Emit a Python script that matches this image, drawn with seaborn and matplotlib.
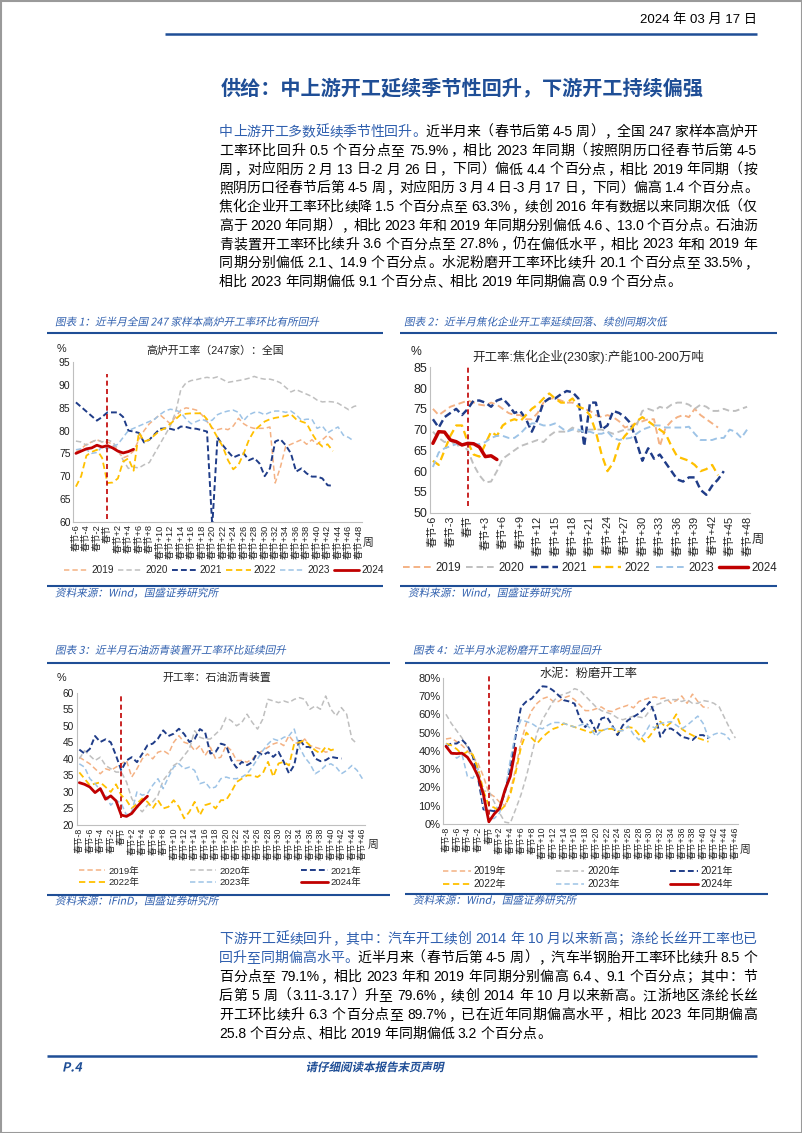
# 2024-03-17 weekly report page: supply side operating rates (4 charts + text)
import re
import seaborn as sns
import matplotlib.pyplot as plt
from matplotlib.font_manager import FontProperties
from matplotlib.textpath import TextPath
from matplotlib.patches import PathPatch, Rectangle
from matplotlib.transforms import Affine2D

W, H = 802, 1133
FONTS = ['Liberation Sans', 'Noto Sans CJK SC']
YEARS = ['2019', '2020', '2021', '2022', '2023', '2024']

# ---- chart 1: blast furnace operating rate (247 mills), weeks around Spring Festival
BF_WEEKS = list(range(-6, 49))
BF_2019 = [75.3, 76.0, 77.0, 77.5, 78.0, 77.5, 77.5, 77.0, 75.5, 74.0, 74.5, 75.5, 78.0, 80.0, 81.5,
           82.5, 83.5, 82.5, 81.5, 83.0, 84.5, 85.0, 84.8, 84.5, 83.5, 82.0, 80.5, 80.2, 80.5, 80.2,
           81.0, 82.7, 81.5, 80.8, 80.5, 80.5, 80.5, 80.8, 68.5, 72.0, 76.5, 77.0, 77.5, 78.0, 77.0,
           78.0, 77.0, 78.0, 79.0, 78.0]
BF_2020 = [77.7, 77.5, 76.8, 77.5, 78.0, 77.5, 78.0, 77.5, 76.0, 73.5, 71.7, 72.0, 71.8, 72.5, 73.0,
           75.0, 77.0, 79.0, 81.0, 84.0, 89.0, 90.5, 91.0, 91.2, 91.5, 91.7, 91.5, 91.8, 91.2, 90.6,
           90.8, 91.0, 91.2, 91.5, 91.9, 91.5, 91.3, 91.3, 91.0, 90.5, 89.5, 88.5, 89.0, 88.5, 88.0,
           87.5, 86.7, 86.3, 86.4, 86.3, 86.0, 85.3, 84.6, 85.3, 85.6]
BF_2021 = [86.2, 85.2, 84.2, 83.2, 82.2, 83.0, 84.0, 84.0, 84.0, 83.0, 80.0, 79.8, 79.5, 77.4, 78.0,
           79.2, 80.4, 80.5, 80.4, 80.1, 80.9, 80.8, 80.5, 80.4, 80.1, 79.8, 59.0, 78.5, 76.8, 75.4,
           74.1, 74.6, 75.0, 73.5, 74.0, 72.8, 70.0, 71.7, 77.6, 78.1, 76.8, 75.0, 71.0, 71.7, 70.6,
           69.9, 69.9, 69.5, 68.0, 67.9]
BF_2022 = [67.7, 70.0, 74.5, 75.3, 75.8, 74.0, 68.5, 68.6, 69.5, 73.2, 73.9, 71.2, 79.6, 77.6, 78.0,
           79.0, 80.0, 80.5, 81.5, 82.5, 83.5, 83.7, 83.8, 83.8, 83.8, 82.5, 80.5, 78.5, 76.5, 73.5,
           71.5, 72.5, 75.0, 78.0, 80.0, 81.0, 82.0, 82.5, 82.8, 83.0, 83.2, 83.6, 82.5, 82.0, 81.6,
           79.4, 77.6, 76.5, 77.0, 75.5]
BF_2023 = [75.8, 76.0, 75.8, 75.0, 75.2, 76.5, 76.0, 76.5, 77.0, 78.5, 80.0, 80.5, 81.0, 81.5, 82.0,
           82.5, 83.5, 84.3, 84.7, 84.5, 84.0, 82.5, 81.5, 82.0, 82.5, 82.0, 82.3, 83.5, 84.0, 84.3,
           84.5, 84.0, 82.2, 83.5, 84.0, 84.0, 83.5, 84.0, 84.3, 84.3, 84.0, 84.3, 83.5, 82.3, 82.5,
           82.5, 80.5, 81.0, 79.5, 80.2, 80.8, 79.0, 78.5, 77.7]
BF_2024 = [75.0, 75.5, 76.0, 76.2, 76.8, 76.4, 76.7, 76.2, 75.5, 75.1, 75.4, 75.9]

# ---- chart 2: coking plants (230, 1-2 Mt capacity)
CK_WEEKS = list(range(-6, 49))
CK_2019 = [75.0, 73.5, 74.5, 75.5, 76.0, 76.5, 77.0, 76.5, 76.0, 75.8, 76.5, 76.0, 75.0, 74.0, 73.5,
           73.5, 72.5, 72.5, 74.0, 76.5, 77.5, 77.5, 77.0, 76.5, 76.5, 75.5, 75.0, 74.5, 73.5, 73.0,
           73.5, 73.0, 72.0, 70.5, 71.0, 71.5, 72.0, 72.5, 72.5, 66.0, 70.5, 72.0, 73.0, 73.5, 73.0,
           75.0, 73.5, 72.5, 71.5, 70.5]
CK_2020 = [69.5, 68.0, 67.0, 67.5, 66.0, 66.5, 65.0, 61.5, 59.0, 57.3, 57.5, 60.0, 63.0, 64.0, 65.0,
           66.0, 66.5, 67.0, 67.5, 67.0, 68.5, 69.5, 69.5, 69.5, 70.5, 69.5, 70.0, 70.0, 70.0, 70.0,
           69.5, 69.0, 69.5, 70.0, 70.0, 71.0, 74.5, 75.0, 74.5, 75.5, 75.0, 76.0, 76.5, 76.5, 76.0,
           75.0, 76.0, 75.5, 74.5, 74.5, 75.0, 74.5, 74.5, 75.0, 75.5]
CK_2021 = [72.5, 70.5, 73.0, 74.0, 75.0, 73.5, 75.0, 77.0, 77.0, 76.5, 75.5, 77.0, 77.5, 76.0, 74.0,
           74.5, 72.5, 69.5, 72.5, 76.5, 77.5, 77.5, 78.5, 79.3, 79.0, 77.5, 66.0, 76.5, 76.5, 70.0,
           71.0, 74.5, 74.0, 73.0, 71.5, 67.0, 62.5, 65.5, 63.0, 64.0, 62.0, 60.0, 58.0, 57.5, 58.5,
           58.5, 55.5, 54.3, 56.5, 58.0, 60.0]
CK_2022 = [62.5, 61.5, 65.0, 68.5, 71.0, 71.0, 67.0, 64.0, 63.5, 66.5, 69.5, 68.5, 71.0, 72.0, 72.5,
           72.0, 73.5, 75.0, 76.0, 77.5, 78.7, 77.5, 76.5, 76.5, 77.5, 75.5, 75.0, 73.5, 69.5, 64.0,
           60.0, 62.0, 66.5, 68.5, 70.0, 72.0, 73.0, 72.0, 71.0, 70.0, 69.0, 66.0, 63.5, 63.0, 62.5,
           61.5, 60.0, 60.5, 61.5, 59.0]
CK_2023 = [61.0, 64.5, 65.5, 66.0, 66.5, 66.5, 66.5, 66.5, 66.5, 67.0, 68.0, 68.5, 68.5, 68.0, 68.0,
           69.0, 70.5, 71.5, 71.5, 71.0, 71.0, 71.5, 70.5, 69.5, 70.0, 70.0, 69.5, 69.5, 69.0, 69.0,
           69.5, 68.0, 67.5, 67.8, 68.0, 69.0, 70.0, 70.5, 71.0, 71.0, 70.5, 70.5, 70.5, 70.5, 70.7,
           69.0, 67.5, 67.5, 67.5, 68.0, 68.0, 70.0, 69.5, 68.0, 70.0]
CK_2024 = [66.7, 69.5, 69.4, 67.5, 67.1, 66.3, 66.7, 66.6, 65.8, 63.5, 63.7, 62.8]

# ---- chart 3: petroleum asphalt plants
AS_WEEKS = list(range(-8, 47))
AS_2019 = [40.5, 39.5, 38.5, 37.0, 35.5, 37.0, 36.5, 37.5, 38.5, 39.5, 34.5, 37.0, 40.0, 41.5, 40.0,
           42.0, 42.5, 41.5, 45.0, 47.0, 45.0, 44.5, 42.5, 44.0, 41.0, 43.5, 40.0, 40.5, 44.0, 42.5,
           39.5, 39.5, 39.0, 40.0, 41.5, 42.5, 43.5, 44.5, 45.0, 44.0, 47.0, 45.0, 44.5, 46.0, 44.0,
           43.5, 43.0, 42.0, 42.5]
AS_2020 = [40.0, 42.5, 41.0, 39.5, 40.5, 38.0, 37.0, 36.0, 36.0, 33.0, 28.0, 25.5, 24.0, 26.0, 27.0,
           29.0, 33.5, 35.5, 38.0, 39.0, 41.0, 43.0, 48.5, 46.5, 46.0, 46.0, 47.5, 49.0, 52.5, 51.5,
           50.0, 51.0, 53.5, 51.0, 49.0, 52.0, 58.0, 57.5, 57.0, 57.5, 57.0, 58.0, 58.5, 58.0, 55.0,
           56.0, 55.0, 59.0, 55.0, 53.0, 55.5, 53.5, 46.0, 44.5]
AS_2021 = [42.8, 41.6, 43.0, 46.9, 45.1, 45.9, 45.0, 41.0, 36.5, 39.5, 40.5, 39.0, 41.5, 44.1, 44.6,
           46.1, 48.6, 46.9, 47.6, 49.1, 47.5, 45.1, 46.0, 49.0, 48.0, 41.6, 42.1, 44.6, 44.1, 39.6,
           37.3, 39.1, 38.1, 39.0, 42.1, 41.1, 42.0, 40.6, 42.1, 39.1, 35.6, 38.1, 46.1, 43.6, 43.6,
           40.1, 39.3, 39.6, 40.6, 40.3, 40.1]
AS_2022 = [35.9, 34.0, 32.0, 32.5, 32.9, 31.5, 30.0, 32.3, 29.0, 27.5, 25.0, 26.5, 28.0, 27.0, 25.0,
           27.5, 25.0, 25.5, 27.5, 25.5, 22.0, 24.0, 27.0, 23.0, 26.0, 26.5, 25.0, 27.5, 27.5, 30.0,
           33.0, 34.0, 35.0, 35.0, 34.5, 35.6, 39.1, 34.6, 38.6, 39.1, 38.0, 44.6, 45.0, 45.6, 44.0,
           42.6, 41.6, 43.6, 42.6, 43.1]
AS_2023 = [38.5, 37.5, 34.0, 32.5, 30.5, 29.0, 26.0, 27.5, 26.5, 23.0, 24.0, 30.0, 29.0, 29.5, 32.0,
           34.0, 31.0, 34.5, 37.5, 38.5, 37.0, 37.5, 36.5, 32.5, 33.0, 31.0, 31.5, 34.0, 34.5, 34.0,
           34.0, 34.5, 35.5, 37.5, 40.0, 42.5, 44.5, 46.0, 45.5, 46.5, 47.0, 49.0, 43.5, 40.5, 38.5,
           35.5, 36.5, 38.0, 38.5, 37.5, 35.5, 36.5, 38.0, 36.5, 34.0]
AS_2024 = [32.8, 32.3, 31.5, 29.8, 31.0, 27.8, 28.8, 27.3, 23.0, 22.6, 23.5, 25.5, 27.2, 28.7]

# ---- chart 4: cement grinding (%)
CM_WEEKS = list(range(-8, 47))
CM_2019 = [46.5, 47.0, 45.0, 43.0, 40.0, 37.0, 33.0, 26.0, 17.0, 15.0, 12.0, 10.0, 18.0, 30.0, 45.0,
           55.0, 62.0, 66.0, 68.5, 69.5, 67.0, 67.0, 69.0, 70.0, 68.0, 65.0, 62.0, 62.0, 63.0, 64.0,
           62.0, 61.5, 63.0, 64.0, 65.0, 63.5, 67.0, 68.0, 69.0, 69.5, 68.5, 69.0, 66.0, 67.5, 70.0,
           66.0, 71.0, 67.0, 64.0, 63.5]
CM_2020 = [60.0, 55.0, 51.0, 47.0, 42.0, 38.0, 30.0, 18.0, 18.0, 12.0, 6.0, 1.0, 0.5, 8.0, 16.0,
           26.0, 38.0, 50.0, 57.0, 62.0, 67.0, 70.0, 71.0, 72.0, 74.0, 73.0, 70.0, 67.0, 64.0, 62.0,
           61.0, 60.0, 58.0, 57.0, 58.0, 59.0, 58.5, 58.0, 62.0, 65.0, 66.0, 67.5, 68.0, 68.0, 67.0,
           68.0, 66.0, 66.0, 67.5, 67.0, 66.0, 64.0, 58.0, 52.0, 47.0]
CM_2021 = [42.5, 44.0, 44.0, 46.0, 43.0, 37.0, 25.0, 8.0, 7.5, 7.0, 9.0, 17.0, 31.0, 48.0, 64.0,
           67.0, 68.6, 72.0, 75.3, 75.0, 73.0, 70.4, 67.7, 67.0, 65.8, 57.7, 53.0, 56.8, 50.4, 57.7,
           58.6, 54.0, 48.6, 54.0, 56.8, 58.6, 60.4, 63.0, 66.8, 60.0, 47.7, 52.0, 52.2, 50.4, 47.7,
           47.0, 45.9, 48.6, 48.6, 46.8]
CM_2022 = [44.0, 43.0, 41.0, 38.0, 39.5, 38.0, 30.0, 18.0, 10.0, 9.0, 7.0, 10.0, 16.0, 28.0, 42.0,
           50.0, 47.0, 44.0, 47.5, 50.0, 52.0, 53.0, 55.0, 54.0, 53.0, 52.0, 51.0, 50.0, 51.5, 51.0,
           52.0, 52.0, 50.5, 51.5, 53.0, 52.5, 49.0, 45.0, 48.0, 52.0, 56.0, 53.0, 55.5, 60.0, 52.0,
           50.0, 48.5, 47.0, 46.0, 45.0]
CM_2023 = [44.0, 39.0, 36.0, 38.0, 26.0, 25.0, 30.0, 10.0, 3.0, 3.0, 6.0, 18.0, 35.0, 50.0, 57.0,
           56.0, 55.0, 53.0, 52.0, 54.0, 55.5, 55.5, 55.0, 54.0, 53.0, 54.0, 55.0, 52.0, 48.0, 51.0,
           52.0, 53.0, 51.0, 51.0, 53.5, 49.0, 46.0, 49.0, 54.0, 52.5, 55.0, 55.5, 56.0, 54.0, 52.0,
           54.0, 56.5, 59.0, 55.0, 47.0, 49.0, 50.0, 49.0, 46.0]
CM_2024 = [42.5, 38.7, 38.5, 38.7, 36.5, 32.0, 26.0, 16.0, 1.2, 5.5, 8.5, 18.5, 26.0, 41.5]

STYLE = {
    '2019': ('#F4B183', 1.1, (0, (3.5, 2))),
    '2020': ('#BFBFBF', 1.1, (0, (3.5, 2))),
    '2021': ('#1F3C88', 1.4, (0, (3, 1.6))),
    '2022': ('#FFC000', 1.3, (0, (3.5, 2))),
    '2023': ('#9DC3E6', 1.1, (0, (3.5, 2))),
    '2024': ('#C00000', 2.0, '-'),
}
DARK = '#1F4E96'
MID = '#2F5FAE'

sns.set_style('white')
plt.rcParams['font.family'] = FONTS
plt.rcParams['axes.unicode_minus'] = False

fig = plt.figure(figsize=(W / 100, H / 100), dpi=100)
page = fig.add_axes([0, 0, 1, 1])
page.set_xlim(0, W)
page.set_ylim(0, H)
page.axis('off')
page.add_patch(Rectangle((0.5, 0.5), W - 1, H - 1, fill=False, ec='#9A9A9A', lw=1.5))


def hline(x0, x1, y, lw=1.6, color=DARK):
    page.plot([x0, x1], [H - y, H - y], color=color, lw=lw, solid_capstyle='butt')


def slant(x, y, s, size, color=MID, bold=False, ha='left'):
    # fake italic: skewed text path
    fp = FontProperties(family='Noto Sans CJK SC', weight='bold' if bold else 'normal')
    tp = TextPath((0, 0), s, size=size, prop=fp)
    dx = -tp.get_extents().width / 2 if ha == 'center' else 0
    tr = Affine2D().translate(dx, 0).skew_deg(12, 0).translate(x, H - y - 0.36 * size)
    page.add_patch(PathPatch(tp, transform=tr + page.transData, fc=color, ec='none', clip_on=False))


# ---- body text, justified line by line
R = fig.canvas.get_renderer()
EM = 10 * 100 / 72
BODY = FontProperties(family=FONTS, size=10)
TOK = re.compile(r'[!-~]+| |.')
LEFT_P = '，。、：；）'


def body_line(y, segs, justify=True, x0=219, x1=757):
    toks = [(t, c) for s, c in segs for t in TOK.findall(s)]
    ws = []
    for t, _ in toks:
        if t == ' ':
            ws.append(0.25 * EM)
        elif ord(t[0]) > 0x2000:
            ws.append(EM)
        else:
            ws.append(R.get_text_width_height_descent(t, BODY, ismath=False)[0])
    gap = (x1 - x0 - sum(ws)) / (len(toks) - 1) if justify else 0
    x = x0
    yb = H - (y + 0.36 * EM)
    for (t, c), w in zip(toks, ws):
        if t != ' ':
            if ord(t[0]) <= 0x2000:
                page.text(x, yb, t, fontproperties=BODY, color=c, ha='left', va='baseline')
            elif t in LEFT_P:
                page.text(x + 0.08 * EM, yb, t, fontproperties=BODY, color=c, ha='left', va='baseline')
            elif t == '（':
                page.text(x + 0.92 * EM, yb, t, fontproperties=BODY, color=c, ha='right', va='baseline')
            else:
                page.text(x + EM / 2, yb, t, fontproperties=BODY, color=c, ha='center', va='baseline')
        x += w + gap


K = 'black'
PARA1 = [
    [('中上游开工多数延续季节性回升。', MID), ('近半月来（春节后第 4-5 周），全国 247 家样本高炉开', K)],
    [('工率环比回升 0.5 个百分点至 75.9%，相比 2023 年同期（按照阴历口径春节后第 4-5', K)],
    [('周，对应阳历 2 月 13 日-2 月 26 日，下同）偏低 4.4 个百分点，相比 2019 年同期（按', K)],
    [('照阴历口径春节后第 4-5 周，对应阳历 3 月 4 日-3 月 17 日，下同）偏高 1.4 个百分点。', K)],
    [('焦化企业开工率环比续降 1.5 个百分点至 63.3%，续创 2016 年有数据以来同期次低（仅', K)],
    [('高于 2020 年同期），相比 2023 年和 2019 年同期分别偏低 4.6、13.0 个百分点。石油沥', K)],
    [('青装置开工率环比续升 3.6 个百分点至 27.8%，仍在偏低水平，相比 2023 年和 2019 年', K)],
    [('同期分别偏低 2.1、14.9 个百分点。水泥粉磨开工率环比续升 20.1 个百分点至 33.5%，', K)],
    [('相比 2023 年同期偏低 9.1 个百分点、相比 2019 年同期偏高 0.9 个百分点。', K)],
]
PARA2 = [
    [('下游开工延续回升，其中：汽车开工续创 2014 年 10 月以来新高；涤纶长丝开工率也已', MID)],
    [('回升至同期偏高水平。', MID), ('近半月来（春节后第 4-5 周），汽车半钢胎开工率环比续升 8.5 个', K)],
    [('百分点至 79.1%，相比 2023 年和 2019 年同期分别偏高 6.4、9.1 个百分点；其中：节', K)],
    [('后第 5 周（3.11-3.17）升至 79.6%，续创 2014 年 10 月以来新高。江浙地区涤纶长丝', K)],
    [('开工环比续升 6.3 个百分点至 89.7%，已在近年同期偏高水平，相比 2023 年同期偏高', K)],
    [('25.8 个百分点、相比 2019 年同期偏低 3.2 个百分点。', K)],
]
for i, segs in enumerate(PARA1):
    body_line(131 + 18.75 * i, segs, justify=i < len(PARA1) - 1)
for i, segs in enumerate(PARA2):
    body_line(938 + 19 * i, segs, justify=i < len(PARA2) - 1)

# ---- header / footer
page.text(757, H - 20, '2024 年 03 月 17 日', fontsize=9.5, ha='right', va='center', color='black')
hline(165, 757, 34, lw=1.8)
page.text(462, H - 88, '供给：中上游开工延续季节性回升，下游开工持续偏强', fontsize=14.5,
          fontweight='bold', color=DARK, ha='center', va='center')
hline(47, 757, 1056, lw=1.8)
slant(62, 1067, 'P.4', 12.5, color=DARK, bold=True)
slant(374, 1067, '请仔细阅读本报告末页声明', 11.5, color=DARK, bold=True, ha='center')


def panel(l, t, r, b):
    ax = fig.add_axes([l / W, 1 - b / H, (r - l) / W, (b - t) / H])
    ax.set_facecolor('none')
    return ax


def spring(w):
    return '春节' if w == 0 else f'春节{w:+d}'


def draw(ax, weeks, series, ylim, yticks, ylabels, xstep, fx, fy, vspan, k=1.0):
    for year, vals in zip(YEARS, series):
        c, lw, ls = STYLE[year]
        sns.lineplot(x=weeks[:len(vals)], y=vals, ax=ax, color=c, lw=lw * k, linestyle=ls,
                     label=year, legend=False)
    ax.vlines(0, vspan[0], vspan[1], colors='#C00000', linestyles=(0, (3, 2)), lw=1.2, clip_on=False)
    ax.set_xlim(weeks[0] - 0.5, weeks[-1] + 0.5)
    ax.set_ylim(*ylim)
    ax.set_xticks(weeks[::xstep])
    ax.set_xticklabels([spring(w) for w in weeks[::xstep]], rotation=90, fontsize=fx)
    ax.set_yticks(yticks)
    ax.set_yticklabels(ylabels, fontsize=fy)
    ax.tick_params(length=0, pad=2, colors='#222222')
    ax.set_xlabel('')
    ax.set_ylabel('')
    for s in ['top', 'right']:
        ax.spines[s].set_visible(False)
    for s in ['left', 'bottom']:
        ax.spines[s].set_color('#BFBFBF')
        ax.spines[s].set_linewidth(0.8)
    return ax.get_legend_handles_labels()


def legend(h, l, cx, cy, ncol, fs, hl, cs, suffix=''):
    if ncol == 3:
        order = [0, 3, 1, 4, 2, 5]
        h, l = [h[i] for i in order], [l[i] for i in order]
    fig.legend(h, [x + suffix for x in l], loc='center', bbox_to_anchor=(cx / W, 1 - cy / H),
               ncol=ncol, frameon=False, prop=FontProperties(family=FONTS, size=fs),
               handlelength=hl, handletextpad=0.3, columnspacing=cs, labelspacing=0.3,
               borderpad=0, borderaxespad=0)


# chart 1
slant(55, 321.7, '图表 1：近半月全国 247 家样本高炉开工率环比有所回升', 10.6)
hline(47, 383, 332.7, lw=1.5)
page.text(215, H - 350.7, '高炉开工率（247家）：全国', fontsize=7.8, ha='center', va='center')
page.text(61, H - 349, '%', fontsize=7.8, ha='center', va='center')
ax1 = panel(73.3, 362.3, 361.7, 521.7)
h, l = draw(ax1, BF_WEEKS, [BF_2019, BF_2020, BF_2021, BF_2022, BF_2023, BF_2024], (60, 95),
            range(60, 96, 5), [str(v) for v in range(60, 96, 5)], 2, 6.7, 7.5, (60.5, 92.5))
page.text(368, H - 543, '周', fontsize=7.8, ha='center', va='center')
legend(h, l, 224, 570, 6, 7.2, 2.5, 0.35)
hline(47, 383, 586, lw=1.5)
slant(55, 592.7, '资料来源：Wind，国盛证券研究所', 10.6)

# chart 2
slant(404, 321.7, '图表 2：近半月焦化企业开工率延续回落、续创同期次低', 10.6)
hline(400, 777, 332.7, lw=1.5)
page.text(588, H - 356.7, '开工率:焦化企业(230家):产能100-200万吨', fontsize=9, ha='center', va='center')
page.text(416, H - 351.7, '%', fontsize=8.8, ha='center', va='center')
ax2 = panel(430, 367.3, 750, 512.7)
h, l = draw(ax2, CK_WEEKS, [CK_2019, CK_2020, CK_2021, CK_2022, CK_2023, CK_2024], (50, 85),
            range(50, 86, 5), [str(v) for v in range(50, 86, 5)], 3, 7.8, 9, (51.5, 85), k=1.25)
page.text(758, H - 540, '周', fontsize=8.8, ha='center', va='center')
legend(h, l, 590, 568, 6, 8.3, 2.5, 0.45)
hline(400, 777, 586, lw=1.5)
slant(408, 592.7, '资料来源：Wind，国盛证券研究所', 10.6)

# chart 3
slant(55, 650, '图表 3：近半月石油沥青装置开工率环比延续回升', 10.6)
hline(47, 390, 662.7, lw=1.5)
page.text(217, H - 678, '开工率：石油沥青装置', fontsize=7.8, ha='center', va='center')
page.text(61, H - 678, '%', fontsize=7.8, ha='center', va='center')
ax3 = panel(76.7, 692.7, 365, 825)
h, l = draw(ax3, AS_WEEKS, [AS_2019, AS_2020, AS_2021, AS_2022, AS_2023, AS_2024], (20, 60),
            range(20, 61, 5), [str(v) for v in range(20, 61, 5)], 2, 6.3, 7.3, (22, 60))
page.text(373, H - 845, '周', fontsize=7.8, ha='center', va='center')
legend(h, l, 220, 877, 3, 6.8, 2.8, 5.4, suffix='年')
hline(47, 390, 895, lw=1.5)
slant(55, 900.7, '资料来源：iFinD，国盛证券研究所', 10.6)

# chart 4
slant(413, 650, '图表 4：近半月水泥粉磨开工率明显回升', 10.6)
hline(405, 768, 662.7, lw=1.5)
page.text(589, H - 674, '水泥：粉磨开工率', fontsize=8.8, ha='center', va='center')
ax4 = panel(443.3, 677.7, 738, 824)
h, l = draw(ax4, CM_WEEKS, [CM_2019, CM_2020, CM_2021, CM_2022, CM_2023, CM_2024], (0, 80),
            range(0, 81, 10), [f'{v}%' for v in range(0, 81, 10)], 2, 6.3, 8, (0.5, 81))
page.text(745, H - 850, '周', fontsize=7.8, ha='center', va='center')
legend(h, l, 588, 877.5, 3, 7.2, 2.8, 5.0, suffix='年')
hline(405, 768, 894, lw=1.5)
slant(413, 900, '资料来源：Wind，国盛证券研究所', 10.6)

fig.savefig('out.png', dpi=100)
